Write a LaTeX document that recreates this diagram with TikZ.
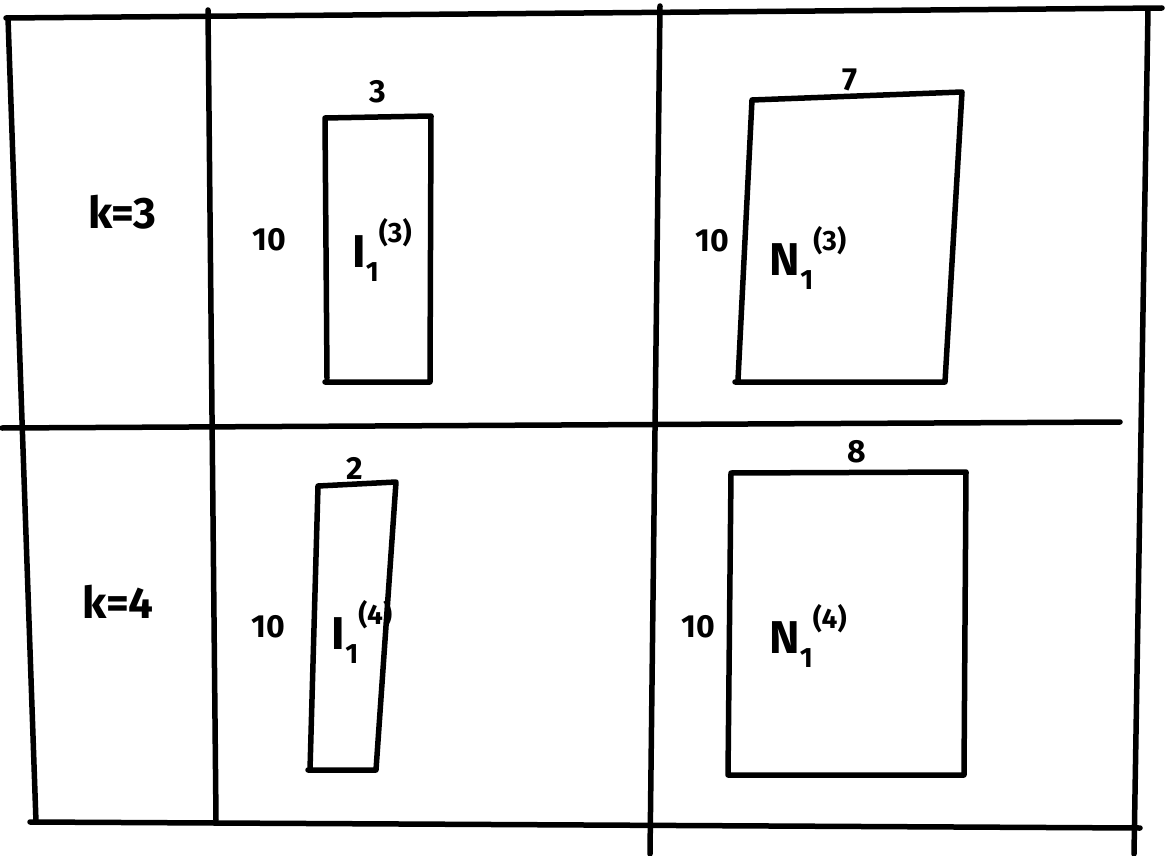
\documentclass[tikz,border=0pt]{standalone}
\usepackage{fontspec}
\setmainfont{Fira Sans}
\newcommand{\subsup}[3]{#1\raisebox{-0.3em}{\fontsize{28}{30}\selectfont #2}\raisebox{0.55em}{\fontsize{28}{30}\selectfont #3}}
\begin{document}
\begin{tikzpicture}[x=1pt,y=-1pt,
  ink/.style={line width=5.5pt,line cap=round,line join=round,black},
  lbl/.style={font=\fontsize{44}{46}\selectfont\bfseries,inner sep=0pt},
  small/.style={font=\fontsize{32}{34}\selectfont\bfseries,inner sep=0pt},
  sym/.style={font=\fontsize{46}{48}\selectfont\bfseries,inner sep=0pt}]
\useasboundingbox[fill=white] (0,0) rectangle (1165,856);
% grid
\draw[ink] (6,18) -- (1162,8);
\draw[ink] (8,18) -- (36,822);
\draw[ink] (208,10) -- (216,820);
\draw[ink] (660,6) -- (650,854);
\draw[ink] (1148,10) -- (1134,854);
\draw[ink] (2,428) -- (1120,422);
\draw[ink] (30,822) -- (1140,828);
% boxes
\draw[ink] (327,378) -- (325,118) -- (431,116) -- (430,382) -- (325,382);
\draw[ink] (738,380) -- (752,100) -- (962,92) -- (945,382) -- (735,382);
\draw[ink] (310,770) -- (318,486) -- (396,482) -- (376,770) -- (308,770);
\draw[ink] (728,775) -- (731,473) -- (966,472) -- (964,775) -- (728,775);
% labels
\node[lbl] (k3) at (122,212) {k=3};
\node[lbl] (k4) at (118,602) {k=4};
\node[small] (t3) at (378,92) {3};
\node[small] (t7) at (850,80) {7};
\node[small] (t2) at (355,468) {2};
\node[small] (t8) at (857,452) {8};
\node[small] (h1) at (269,240) {10};
\node[small] (h2) at (712,241) {10};
\node[small] (h3) at (268,627) {10};
\node[small] (h4) at (698,627) {10};
\node[sym] (i3) at (382,250) {\subsup{I}{1}{(3)}};
\node[sym] (n3) at (808,258) {\subsup{N}{1}{(3)}};
\node[sym] (i4) at (362,632) {\subsup{I}{1}{(4)}};
\node[sym] (n4) at (808,636) {\subsup{N}{1}{(4)}};
\end{tikzpicture}
\end{document}
